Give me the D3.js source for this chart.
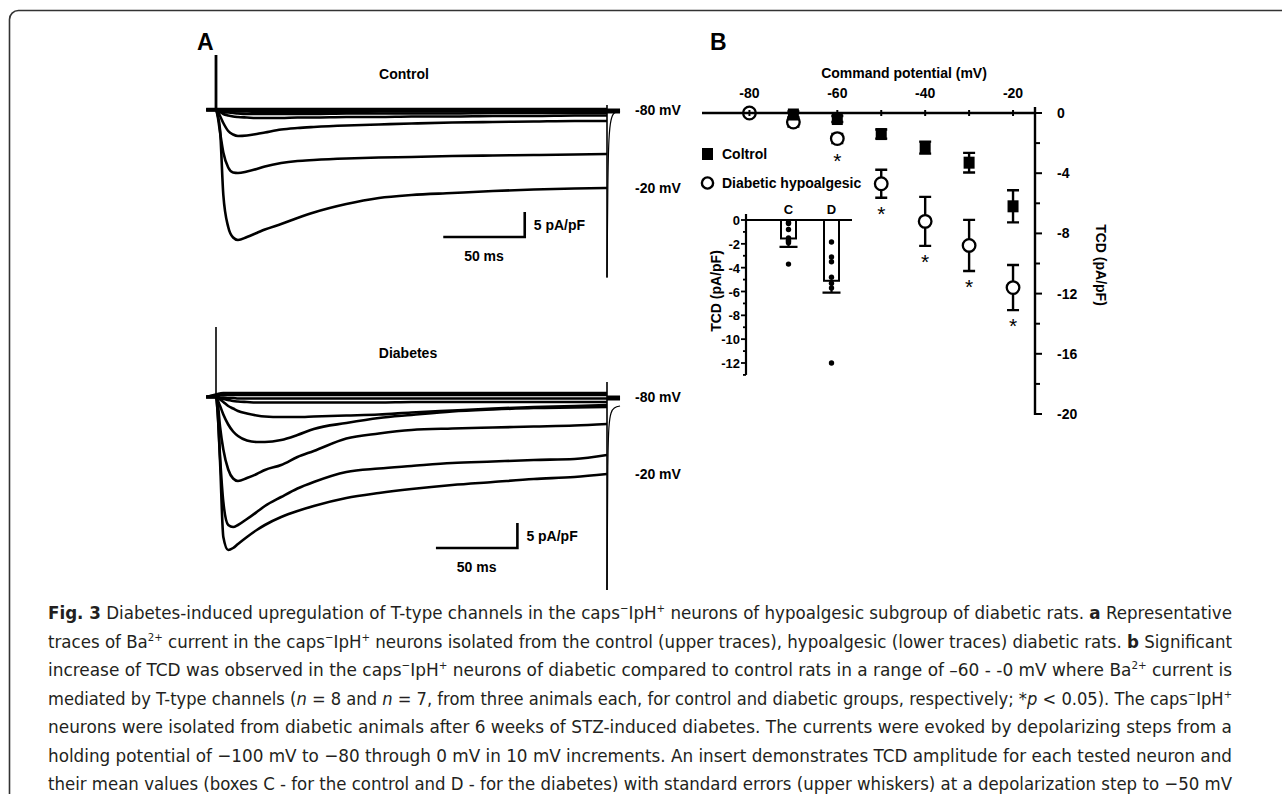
<!DOCTYPE html>
<html>
<head>
<meta charset="utf-8">
<script src="https://cdn.jsdelivr.net/npm/d3@7"></script>
<style>
    body { margin: 0; background: #fff; }
    svg { display: block; }
    .lbl { font-family: "Liberation Sans", Arial, sans-serif; font-weight: bold; fill: #000; }
    .caption { font-family: "Liberation Sans Narrow", "DejaVu Sans Condensed", "Open Sans", sans-serif; fill: #231f20; }
</style>
</head>
<body>
<script>
//panel A: sampling times of the sweeps (ms), one value per time in every sweep
var traceTime = [-6, 0, 1, 2.5, 4.5, 7.5, 10.5, 13.5, 19, 25, 30, 40, 50, 60, 80, 100, 120, 145, 170, 195, 220, 240];

//control sweeps (pA/pF)
var ctrlSweep1 = [0, 0, -1, -4, -17, -23.4, -25.5, -26, -25.4, -24.6, -23.9, -22.8, -21.6, -20.5, -18.8, -17.6, -17, -16.6, -16.2, -15.9, -15.7, -15.6];
var ctrlSweep2 = [0, 0, -1.2, -4.5, -8.5, -11.5, -12.5, -12.6, -12.3, -11.8, -11.3, -10.6, -10.2, -10, -9.7, -9.5, -9.4, -9.2, -9.1, -9, -8.9, -8.8];
var ctrlSweep3 = [0, 0, -0.3, -1.2, -2.6, -4.2, -4.9, -5.2, -5.1, -4.8, -4.5, -3.9, -3.6, -3.4, -3.1, -2.9, -2.7, -2.5, -2.4, -2.3, -2.2, -2.2];
var ctrlSweep4 = [0, 0, -0.1, -0.4, -0.8, -1.1, -1.3, -1.4, -1.5, -1.6, -1.6, -1.6, -1.5, -1.5, -1.4, -1.4, -1.3, -1.3, -1.2, -1.2, -1.1, -1.1];
var ctrlSweep5 = [0, 0, 0, -0.2, -0.4, -0.5, -0.6, -0.7, -0.8, -0.8, -0.8, -0.8, -0.8, -0.8, -0.7, -0.7, -0.7, -0.7, -0.6, -0.6, -0.6, -0.6];
var ctrlSweep6 = [0, 0, 0, -0.1, -0.2, -0.2, -0.3, -0.3, -0.3, -0.4, -0.4, -0.4, -0.4, -0.4, -0.4, -0.3, -0.3, -0.3, -0.3, -0.3, -0.3, -0.3];
var ctrlSweep7 = [0, 0, 0, 0, 0, 0, 0, 0, 0, 0, 0, 0, 0, 0, 0, 0, 0, 0, 0, 0, 0, 0];
var ctrlSweep8 = [0.2, 0.2, 0.2, 0.2, 0.2, 0.2, 0.2, 0.2, 0.2, 0.2, 0.2, 0.2, 0.2, 0.2, 0.2, 0.2, 0.2, 0.2, 0.2, 0.2, 0.2, 0.2];

//diabetes sweeps (pA/pF)
var diabSweep1 = [0, 0, -3, -13, -28, -30.6, -30.2, -29.4, -28, -26.6, -25.6, -24, -22.8, -21.8, -20.2, -19.2, -18.4, -17.6, -17, -16.4, -16, -15.4];
var diabSweep2 = [0, 0, -3, -12, -21, -25.6, -26, -25.6, -24.4, -23, -21.8, -20, -18.3, -17, -15, -14.3, -13.8, -13.2, -12.9, -12.6, -12.4, -11.6];
var diabSweep3 = [0, 0, -1, -6, -10.5, -14.5, -16.3, -16.8, -16.2, -15.4, -14.6, -13.6, -12, -10.8, -8.3, -7.3, -6.6, -6.3, -6.1, -5.9, -5.7, -5.4];
var diabSweep4 = [0, 0, -0.6, -1.8, -3.5, -5.5, -6.9, -7.8, -8.7, -9, -9, -8.6, -7.6, -6.4, -5.2, -4.2, -3.6, -2.9, -2.5, -2.2, -2.1, -2];
var diabSweep5 = [0, 0, -0.1, -0.5, -1, -1.8, -2.3, -2.8, -3.3, -3.7, -3.9, -4, -4, -3.9, -3.7, -3.5, -3.1, -2.7, -2.3, -2, -1.8, -1.6];
var diabSweep6 = [0, 0, 0, -0.2, -0.4, -0.6, -0.8, -0.9, -1, -1.1, -1.1, -1.1, -1.1, -1.1, -1.1, -1.1, -1, -1, -1, -1, -1, -1];
var diabSweep7 = [0, 0, 0, -0.1, -0.1, -0.2, -0.2, -0.3, -0.3, -0.3, -0.3, -0.3, -0.3, -0.3, -0.3, -0.3, -0.3, -0.3, -0.3, -0.3, -0.3, -0.3];
var diabSweep8 = [0, 0.3, 0.3, 0.4, 0.4, 0.4, 0.4, 0.4, 0.4, 0.4, 0.4, 0.4, 0.4, 0.4, 0.4, 0.4, 0.4, 0.4, 0.4, 0.4, 0.4, 0.4];
var diabSweep9 = [0, 0.5, 0.6, 0.7, 0.8, 0.8, 0.8, 0.8, 0.8, 0.8, 0.8, 0.8, 0.8, 0.8, 0.8, 0.8, 0.8, 0.8, 0.8, 0.8, 0.8, 0.8];

//capacitive transients at step onset / offset (pA/pF) and the tail after the step
var ctrlOnSpike = [0, 11];
var ctrlOffSpike = [1, -33.5];
var diabOnSpike = [0, 14];
var diabOffSpike = [3, -38.6];
var tailTime = [240, 240.5, 241.2, 242.5, 244.5, 248];
var ctrlTail = [-33.5, -16, -6, -2, -0.6, -0.2];
var diabTail = [-38.6, -14, -6, -3.2, -2.2, -1.8];

//panel B: current density vs command potential
var potentials = [-80, -70, -60, -50, -40, -30, -20];
var controlMean = [0, -0.1, -0.4, -1.4, -2.3, -3.3, -6.2];
var controlErr = [0.1, 0.2, 0.2, 0.3, 0.4, 0.65, 1.07];
var diabMean = [0, -0.6, -1.7, -4.7, -7.2, -8.8, -11.6];
var diabErr = [0.2, 0.3, 0.3, 0.93, 1.63, 1.7, 1.5];
var significant = [false, false, true, true, true, true, true];
var xTicksB = [-80, -70, -60, -50, -40, -30, -20];
var xLabelsB = [-80, -60, -40, -20];
var yTicksB = [0, -2, -4, -6, -8, -10, -12, -14, -16, -18, -20];
var yLabelsB = [0, -4, -8, -12, -16, -20];

//insert: TCD at -50 mV
var insertGroups = ["C", "D"];
var insertMeans = [-1.55, -5.1];
var insertSE = [0.7, 1.0];
var controlCells = [-0.2, -0.3, -0.8, -1.5, -1.7, -1.8, -1.9, -3.7];
var diabeticCells = [-1.85, -3.1, -3.5, -4.8, -5.3, -5.7, -12];
var insertTicks = [0, -1, -2, -3, -4, -5, -6, -7, -8, -9, -10, -11, -12, -13];
var insertLabels = [0, -2, -4, -6, -8, -10, -12];

//caption lines, each a list of [text, style] pieces
var captionLines = [
    [["Fig. 3", "b"], [" Diabetes-induced upregulation of T-type channels in the caps"], ["\u2212", "sup"], ["IpH"], ["+", "sup"], [" neurons of hypoalgesic subgroup of diabetic rats. "], ["a", "b"], [" Representative"]],
    [["traces of Ba"], ["2+", "sup"], [" current in the caps"], ["\u2212", "sup"], ["IpH"], ["+", "sup"], [" neurons isolated from the control (upper traces), hypoalgesic (lower traces) diabetic rats. "], ["b", "b"], [" Significant"]],
    [["increase of TCD was observed in the caps"], ["\u2212", "sup"], ["IpH"], ["+", "sup"], [" neurons of diabetic compared to control rats in a range of \u201360 - -0 mV where Ba"], ["2+", "sup"], [" current is"]],
    [["mediated by T-type channels ("], ["n", "i"], [" = 8 and "], ["n", "i"], [" = 7, from three animals each, for control and diabetic groups, respectively; *"], ["p", "i"], [" < 0.05). The caps"], ["\u2212", "sup"], ["IpH"], ["+", "sup"]],
    [["neurons were isolated from diabetic animals after 6 weeks of STZ-induced diabetes. The currents were evoked by depolarizing steps from a"]],
    [["holding potential of \u2212100 mV to \u221280 through 0 mV in 10 mV increments. An insert demonstrates TCD amplitude for each tested neuron and"]],
    [["their mean values (boxes C - for the control and D - for the diabetes) with standard errors (upper whiskers) at a depolarization step to \u221250 mV"]]
];

window.onload = drawFigure();

function drawFigure(){

    var width = 1282,
        height = 794;

    var svg = d3.select("body")
        .append("svg")
        .attr("width", width)
        .attr("height", height);

    //rounded frame, running off the right and bottom edges
    svg.append("rect")
        .attr("x", 9.5)
        .attr("y", 10.5)
        .attr("width", 1300)
        .attr("height", 800)
        .attr("rx", 9)
        .attr("fill", "none")
        .attr("stroke", "#333")
        .attr("stroke-width", 1.6);

    drawPanelA(svg);
    drawPanelB(svg);
    drawInsert(svg);
    drawCaption(svg);
};

function drawPanelA(svg){
    svg.append("text").attr("class", "lbl")
        .attr("x", 197).attr("y", 50)
        .style("font-size", "23px")
        .text("A");

    //same time base for both sets of sweeps
    var x = d3.scaleLinear().domain([0, 240]).range([216, 607]);

    var yCtrl = d3.scaleLinear().domain([0, -30]).range([110, 260]);
    var yDiab = d3.scaleLinear().domain([0, -30]).range([397, 547]);

    var ctrlSweeps = [ctrlSweep8, ctrlSweep7, ctrlSweep6, ctrlSweep5, ctrlSweep4, ctrlSweep3, ctrlSweep2, ctrlSweep1];
    var diabSweeps = [diabSweep9, diabSweep8, diabSweep7, diabSweep6, diabSweep5, diabSweep4, diabSweep3, diabSweep2, diabSweep1];

    drawSweeps(svg, ctrlSweeps, x, yCtrl, ctrlOnSpike, ctrlOffSpike, ctrlTail, 2.8);
    drawSweeps(svg, diabSweeps, x, yDiab, diabOnSpike, diabOffSpike, diabTail, 1.6);

    //labels
    svg.append("text").attr("class", "lbl")
        .attr("x", 404).attr("y", 79)
        .attr("text-anchor", "middle")
        .style("font-size", "14px")
        .text("Control");
    svg.append("text").attr("class", "lbl")
        .attr("x", 408).attr("y", 358)
        .attr("text-anchor", "middle")
        .style("font-size", "14px")
        .text("Diabetes");

    var mvLabels = [[yCtrl(0), "-80 mV"], [yCtrl(-15.6), "-20 mV"], [yDiab(0), "-80 mV"], [yDiab(-15.4), "-20 mV"]];
    svg.selectAll(".mv")
        .data(mvLabels)
        .enter()
        .append("text")
        .attr("class", "lbl mv")
        .attr("x", 635)
        .attr("y", function(d){ return d[0] + 5; })
        .style("font-size", "14px")
        .text(function(d){ return d[1]; });

    //scale bars: 50 ms and 5 pA/pF
    scaleBar(svg, x, yCtrl, 139.5, -25.4);
    scaleBar(svg, x, yDiab, 135, -30.2);
};

function drawSweeps(svg, sweeps, x, y, onSpike, offSpike, tail, spikeWidth){
    var line = d3.line()
        .x(function(d){ return x(d[0]); })
        .y(function(d){ return y(d[1]); })
        .curve(d3.curveMonotoneX);

    sweeps.forEach(function(vals){
        svg.append("path")
            .datum(d3.zip(traceTime, vals))
            .attr("d", line)
            .attr("fill", "none")
            .attr("stroke", "#000")
            .attr("stroke-width", 2.6)
            .attr("stroke-linejoin", "round");
    });

    //small sweeps continue after the step as a thick band
    [0, -0.4].forEach(function(v){
        svg.append("line")
            .attr("x1", x(240)).attr("x2", x(248))
            .attr("y1", y(v)).attr("y2", y(v))
            .attr("stroke", "#000")
            .attr("stroke-width", 3);
    });

    svg.append("path")
        .datum(d3.zip(tailTime, tail))
        .attr("d", line)
        .attr("fill", "none")
        .attr("stroke", "#000")
        .attr("stroke-width", 1.2);

    svg.append("line")
        .attr("x1", x(0)).attr("x2", x(0))
        .attr("y1", y(onSpike[0])).attr("y2", y(onSpike[1]))
        .attr("stroke", "#000")
        .attr("stroke-width", spikeWidth);

    svg.append("line")
        .attr("x1", x(240)).attr("x2", x(240))
        .attr("y1", y(offSpike[0])).attr("y2", y(offSpike[1]))
        .attr("stroke", "#000")
        .attr("stroke-width", 1.6);
};

function scaleBar(svg, x, y, t0, level){
    svg.append("path")
        .attr("d", "M" + x(t0) + "," + y(level) + "H" + x(t0 + 50) + "V" + y(level + 5))
        .attr("fill", "none")
        .attr("stroke", "#000")
        .attr("stroke-width", 2.6);
    svg.append("text").attr("class", "lbl")
        .attr("x", x(t0 + 50) + 9)
        .attr("y", y(level + 2.5) + 5)
        .style("font-size", "14px")
        .text("5 pA/pF");
    svg.append("text").attr("class", "lbl")
        .attr("x", x(t0 + 25))
        .attr("y", y(level) + 24)
        .attr("text-anchor", "middle")
        .style("font-size", "14px")
        .text("50 ms");
};

function drawPanelB(svg){
    svg.append("text").attr("class", "lbl")
        .attr("x", 710).attr("y", 50)
        .style("font-size", "23px")
        .text("B");

    var x = d3.scaleLinear().domain([-90.8, -15]).range([702, 1035]);
    var y = d3.scaleLinear().domain([0, -20]).range([113, 414]);

    svg.append("text").attr("class", "lbl")
        .attr("x", 904).attr("y", 78)
        .attr("text-anchor", "middle")
        .style("font-size", "14px")
        .text("Command potential (mV)");

    //error bars
    var errData = [];
    potentials.forEach(function(p, i){
        errData.push({ v: p, m: controlMean[i], e: controlErr[i] });
        errData.push({ v: p, m: diabMean[i], e: diabErr[i] });
    });
    var eb = svg.selectAll(".err")
        .data(errData)
        .enter()
        .append("g")
        .attr("class", "err");
    eb.append("path")
        .attr("d", function(d){
            var cx = x(d.v), y1 = y(d.m + d.e), y2 = y(d.m - d.e);
            return "M" + cx + "," + y1 + "V" + y2 + "M" + (cx - 6) + "," + y1 + "H" + (cx + 6) + "M" + (cx - 6) + "," + y2 + "H" + (cx + 6);
        })
        .attr("fill", "none")
        .attr("stroke", "#000")
        .attr("stroke-width", 2.4);

    //diabetic: open circles
    svg.selectAll(".diab")
        .data(potentials)
        .enter()
        .append("circle")
        .attr("class", "diab")
        .attr("cx", function(d){ return x(d); })
        .attr("cy", function(d, i){ return y(diabMean[i]); })
        .attr("r", 6.3)
        .attr("fill", "#fff")
        .attr("stroke", "#000")
        .attr("stroke-width", 2.3);

    //control: filled squares, except where hidden under the -80 circle
    svg.selectAll(".ctrl")
        .data(potentials.slice(1))
        .enter()
        .append("rect")
        .attr("class", "ctrl")
        .attr("x", function(d){ return x(d) - 5.5; })
        .attr("y", function(d){ return y(controlMean[potentials.indexOf(d)]) - 6; })
        .attr("width", 11)
        .attr("height", 12)
        .attr("fill", "#000");

    //stars under significant points
    svg.selectAll(".star")
        .data(potentials.filter(function(d, i){ return significant[i]; }))
        .enter()
        .append("text")
        .attr("class", "lbl star")
        .attr("x", function(d){ return x(d); })
        .attr("y", function(d){
            var i = potentials.indexOf(d);
            var bottom = Math.max(y(diabMean[i] - diabErr[i]), y(diabMean[i]) + 6);
            return bottom + 23;
        })
        .attr("text-anchor", "middle")
        .style("font-size", "21px")
        .style("font-weight", "normal")
        .text("*");

    //top x axis, on top of the markers
    svg.append("line")
        .attr("x1", 702).attr("x2", 1035)
        .attr("y1", y(0)).attr("y2", y(0))
        .attr("stroke", "#000")
        .attr("stroke-width", 2.4);
    svg.selectAll(".xtick")
        .data(xTicksB)
        .enter()
        .append("line")
        .attr("class", "xtick")
        .attr("x1", function(d){ return x(d); })
        .attr("x2", function(d){ return x(d); })
        .attr("y1", y(0) - 3)
        .attr("y2", y(0) + 3)
        .attr("stroke", "#000")
        .attr("stroke-width", 2);
    svg.selectAll(".xlab")
        .data(xLabelsB)
        .enter()
        .append("text")
        .attr("class", "lbl xlab")
        .attr("x", function(d){ return x(d); })
        .attr("y", 98)
        .attr("text-anchor", "middle")
        .style("font-size", "14px")
        .text(function(d){ return d; });

    //right y axis
    svg.append("line")
        .attr("x1", 1035).attr("x2", 1035)
        .attr("y1", 107).attr("y2", y(-20) + 1)
        .attr("stroke", "#000")
        .attr("stroke-width", 2.4);
    svg.selectAll(".ytick")
        .data(yTicksB)
        .enter()
        .append("line")
        .attr("class", "ytick")
        .attr("x1", 1035)
        .attr("x2", function(d){ return d % 4 == 0 ? 1042 : 1040; })
        .attr("y1", function(d){ return y(d); })
        .attr("y2", function(d){ return y(d); })
        .attr("stroke", "#000")
        .attr("stroke-width", 2);
    svg.selectAll(".ylab")
        .data(yLabelsB)
        .enter()
        .append("text")
        .attr("class", "lbl ylab")
        .attr("x", 1057)
        .attr("y", function(d){ return y(d) + 5; })
        .style("font-size", "14px")
        .text(function(d){ return d; });

    svg.append("text").attr("class", "lbl")
        .attr("transform", "translate(1096,265) rotate(90)")
        .attr("text-anchor", "middle")
        .style("font-size", "14px")
        .text("TCD (pA/pF)");

    //legend
    svg.append("rect")
        .attr("x", 702).attr("y", 148)
        .attr("width", 11).attr("height", 12)
        .attr("fill", "#000");
    svg.append("text").attr("class", "lbl")
        .attr("x", 722).attr("y", 159)
        .style("font-size", "14px")
        .text("Coltrol");
    svg.append("circle")
        .attr("cx", 707.5).attr("cy", 183)
        .attr("r", 5.6)
        .attr("fill", "#fff")
        .attr("stroke", "#000")
        .attr("stroke-width", 2.4);
    svg.append("text").attr("class", "lbl")
        .attr("x", 722).attr("y", 188)
        .style("font-size", "14px")
        .text("Diabetic hypoalgesic");
};

function drawInsert(svg){
    var y = d3.scaleLinear().domain([0, -12]).range([220, 363]);
    var x = d3.scalePoint().domain(insertGroups).range([788.5, 831.5]);

    //bars
    svg.selectAll(".bar")
        .data(insertGroups)
        .enter()
        .append("rect")
        .attr("class", "bar")
        .attr("x", function(d){ return x(d) - 7.5; })
        .attr("y", y(0))
        .attr("width", 15)
        .attr("height", function(d, i){ return y(insertMeans[i]) - y(0); })
        .attr("fill", "#fff")
        .attr("stroke", "#000")
        .attr("stroke-width", 2);

    //whiskers
    svg.selectAll(".whisk")
        .data(insertGroups)
        .enter()
        .append("path")
        .attr("class", "whisk")
        .attr("d", function(d, i){
            var cx = x(d), y1 = y(insertMeans[i]), y2 = y(insertMeans[i] - insertSE[i]);
            return "M" + cx + "," + y1 + "V" + y2 + "M" + (cx - 9) + "," + y2 + "H" + (cx + 9);
        })
        .attr("fill", "none")
        .attr("stroke", "#000")
        .attr("stroke-width", 2.2);

    //single neurons
    var cells = controlCells.map(function(v){ return ["C", v]; })
        .concat(diabeticCells.map(function(v){ return ["D", v]; }));
    svg.selectAll(".cell")
        .data(cells)
        .enter()
        .append("circle")
        .attr("class", "cell")
        .attr("cx", function(d){ return x(d[0]); })
        .attr("cy", function(d){ return y(d[1]); })
        .attr("r", 2.7)
        .attr("fill", "#000");

    //zero line and left axis
    svg.append("line")
        .attr("x1", 746).attr("x2", 852)
        .attr("y1", y(0)).attr("y2", y(0))
        .attr("stroke", "#000")
        .attr("stroke-width", 2.2);
    svg.append("line")
        .attr("x1", 746).attr("x2", 746)
        .attr("y1", y(0) - 6).attr("y2", y(-13))
        .attr("stroke", "#000")
        .attr("stroke-width", 2.2);
    svg.selectAll(".itick")
        .data(insertTicks)
        .enter()
        .append("line")
        .attr("class", "itick")
        .attr("x1", function(d){ return d % 2 == 0 ? 741 : 743; })
        .attr("x2", 746)
        .attr("y1", function(d){ return y(d); })
        .attr("y2", function(d){ return y(d); })
        .attr("stroke", "#000")
        .attr("stroke-width", 1.8);
    svg.selectAll(".ilab")
        .data(insertLabels)
        .enter()
        .append("text")
        .attr("class", "lbl ilab")
        .attr("x", 740)
        .attr("y", function(d){ return y(d) + 5; })
        .attr("text-anchor", "end")
        .style("font-size", "13px")
        .text(function(d){ return d; });

    svg.selectAll(".glab")
        .data(insertGroups)
        .enter()
        .append("text")
        .attr("class", "lbl glab")
        .attr("x", function(d){ return x(d); })
        .attr("y", 214)
        .attr("text-anchor", "middle")
        .style("font-size", "13px")
        .text(function(d){ return d; });

    svg.append("text").attr("class", "lbl")
        .attr("transform", "translate(721,291) rotate(-90)")
        .attr("text-anchor", "middle")
        .style("font-size", "14px")
        .text("TCD (pA/pF)");
};

function drawCaption(svg){
    var lineStep = 28.5;
    captionLines.forEach(function(pieces, i){
        var t = svg.append("text")
            .attr("class", "caption")
            .attr("x", 48)
            .attr("y", 619 + i * lineStep)
            .attr("textLength", 1184)
            .attr("lengthAdjust", "spacingAndGlyphs")
            .style("font-size", "18px");
        var raised = false;
        pieces.forEach(function(p){
            var ts = t.append("tspan").text(p[0]);
            if (p[1] == "b") ts.style("font-weight", "bold");
            if (p[1] == "i") ts.style("font-style", "italic");
            if (p[1] == "sup"){
                ts.style("font-size", "11px");
                if (!raised){ ts.attr("dy", -7); raised = true; }
            } else if (raised){
                ts.attr("dy", 7);
                raised = false;
            }
        });
    });
};
</script>
</body>
</html>
